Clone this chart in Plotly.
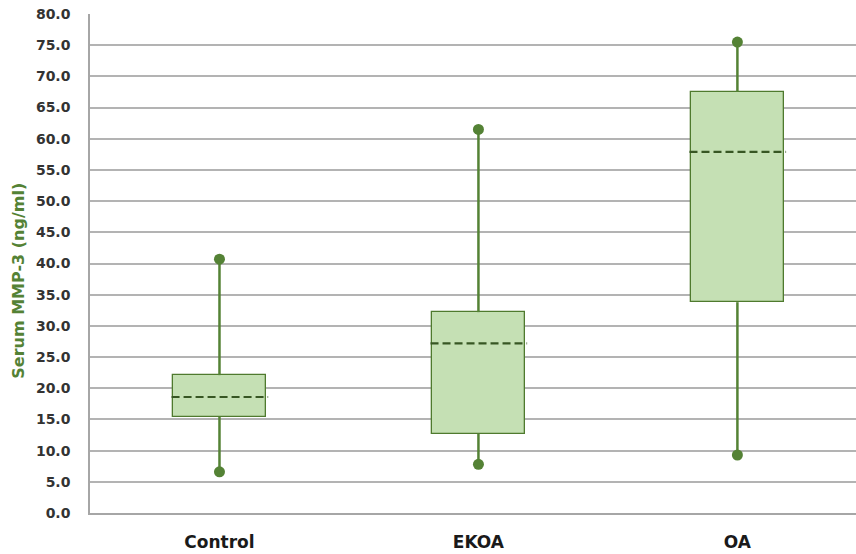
import plotly.graph_objects as go

# Serum MMP-3 summary statistics per group (ng/ml)
groups = ["Control", "EKOA", "OA"]
minimum = [6.6, 7.8, 9.3]
q1 = [15.4, 12.7, 33.8]
median = [18.6, 27.2, 57.9]
q3 = [22.1, 32.2, 67.5]
maximum = [40.7, 61.5, 75.5]

y_ticks = [i * 5 for i in range(17)]

box_fill = "#C5E0B4"
box_edge = "#4F7A2E"
whisker_green = "#548235"
median_green = "#375623"
half_w = 0.18

font_family = "DejaVu Sans, Verdana, sans-serif"

xs = list(range(len(groups)))
fig = go.Figure()

# Boxes (Q1 to Q3) as floating bars
fig.add_trace(go.Bar(
    x=xs, y=[b - a for a, b in zip(q1, q3)], base=q1,
    width=2 * half_w, marker=dict(color=box_fill, line=dict(color=box_edge, width=1.3)),
    hoverinfo="skip", showlegend=False,
))

# Whiskers with dot ends
for i in xs:
    for lo, hi in ((minimum[i], q1[i]), (q3[i], maximum[i])):
        fig.add_trace(go.Scatter(
            x=[i, i], y=[lo, hi], mode="lines",
            line=dict(color=whisker_green, width=2.5), showlegend=False, hoverinfo="skip",
        ))
    fig.add_trace(go.Scatter(
        x=[i, i], y=[minimum[i], maximum[i]], mode="markers",
        marker=dict(color=whisker_green, size=11), showlegend=False,
    ))
    # Dashed median line
    fig.add_trace(go.Scatter(
        x=[i - half_w - 0.005, i + half_w + 0.008], y=[median[i], median[i]], mode="lines",
        line=dict(color=median_green, width=2.2, dash="8px,4px"), showlegend=False,
    ))

fig.update_layout(
    width=856, height=554,
    margin=dict(l=90, r=0, t=14, b=41),
    plot_bgcolor="white", paper_bgcolor="white",
    bargap=0,
    xaxis=dict(
        range=[-0.5, 2.458], tickmode="array", tickvals=xs, ticktext=groups,
        tickfont=dict(family=font_family, size=17, color="#1a1a1a", weight="bold"),
        showgrid=False, showline=True, linecolor="#a6a6a6", linewidth=1.5,
        ticks="", ticklabelstandoff=13, zeroline=False,
    ),
    yaxis=dict(
        range=[0, 80], tickmode="array", tickvals=y_ticks,
        ticktext=[f"{v:.1f}" for v in y_ticks],
        tickfont=dict(family=font_family, size=14, color="#333333", weight="bold"),
        showgrid=True, gridcolor="#b3b3b3", gridwidth=1.5,
        showline=True, linecolor="#a6a6a6", linewidth=1.5,
        ticks="", ticklabelstandoff=15, zeroline=False,
    ),
    annotations=[dict(
        text="Serum MMP-3 (ng/ml)", textangle=-90,
        xref="paper", yref="paper", x=-0.093, y=0.465,
        xanchor="center", yanchor="middle", showarrow=False,
        font=dict(family=font_family, size=16, color=whisker_green, weight="bold"),
    )],
)

fig.write_html("out.html")
